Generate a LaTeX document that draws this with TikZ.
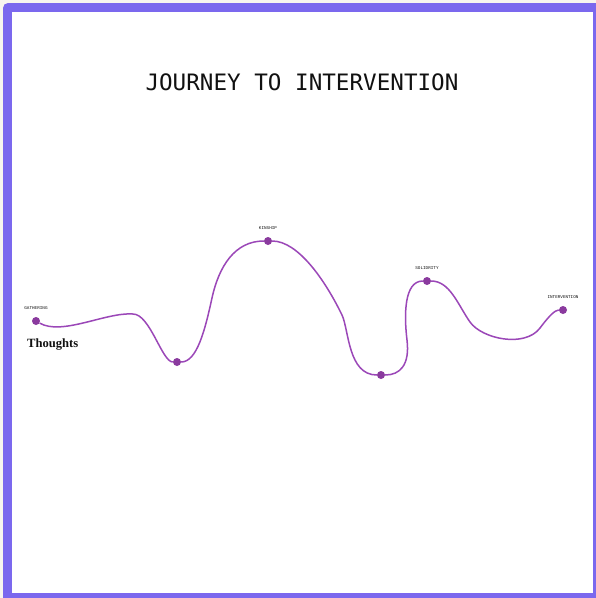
\documentclass[tikz,border=0pt]{standalone}
\usepackage{fontspec}
\setmainfont{Liberation Serif}
\setmonofont{Liberation Mono}
\newfontfamily\headfont{DejaVu Sans Mono}
\usetikzlibrary{positioning}
\definecolor{Page}{HTML}{F8F5EF}
\definecolor{Frame}{HTML}{7B68EE}
\definecolor{Path}{HTML}{9B47B8}
\definecolor{Stop}{HTML}{8A3A9E}
\definecolor{Ink}{HTML}{111111}

\begin{document}
\begin{tikzpicture}[
  x=1pt,y=-1pt,
  stop/.style={circle,fill=Stop,inner sep=0pt,minimum size=8pt},
  tag/.style={font=\ttfamily\fontsize{4.3}{5}\selectfont,text=Ink,inner sep=0pt},
  road/.style={draw=Path,line width=1.5pt}
]
\useasboundingbox (0,0) rectangle (596,598);
\fill[Page] (0,0) rectangle (596,598);
\fill[Frame] (3,598) [rounded corners=5pt] -- (3,3) [sharp corners] -- (596,3) -- (596,598) -- cycle;
\fill[white] (12,12) rectangle (593,593);

\node[anchor=base,font=\headfont\fontsize{22.6}{26}\selectfont,text=Ink] (title) at (302,90) {JOURNEY TO INTERVENTION};

\node[stop] (gather) at (36,321) {};
\node[stop] (dip1) at (177,362) {};
\node[stop] (kin) at (268,241) {};
\node[stop] (dip2) at (381,375) {};
\node[stop] (solid) at (427,281) {};
\node[stop] (inter) at (563,310) {};

\coordinate (bump) at (133,314);
\coordinate (climb) at (212,298);
\coordinate (fall) at (342,315);
\coordinate (wall) at (407,340);
\coordinate (slope) at (470,322);
\coordinate (valley) at (540,328);

\node[tag,above=7pt of gather] (gatherlbl) {GATHERING};
\node[tag,above=7pt of kin] (kinlbl) {KINSHIP};
\node[tag,above=7pt of solid] (solidlbl) {SOLIDRITY};
\node[tag,above=7pt of inter] (interlbl) {INTERVENTION};

\node[anchor=base west,font=\bfseries\fontsize{12.6}{15}\selectfont,text=Ink,inner sep=0pt] (thoughts) at (27,347.5) {Thoughts};

\draw[road] (gather) .. controls (62,336) and (106,312) .. (bump)
  .. controls (150,314) and (162,362) .. (dip1);
\draw[road] (dip1) .. controls (197,362) and (205,330) .. (climb)
  .. controls (219,266) and (235,241) .. (kin);
\draw[road] (kin) .. controls (298,241) and (325,280) .. (fall)
  .. controls (349,330) and (348,375) .. (dip2);
\draw[road] (dip2) .. controls (400,375) and (410,365) .. (wall)
  .. controls (404,315) and (404,281) .. (solid);
\draw[road] (solid) .. controls (450,281) and (458,305) .. (slope)
  .. controls (482,339) and (525,348) .. (valley)
  .. controls (549,316) and (555,310) .. (inter);
\end{tikzpicture}
\end{document}
